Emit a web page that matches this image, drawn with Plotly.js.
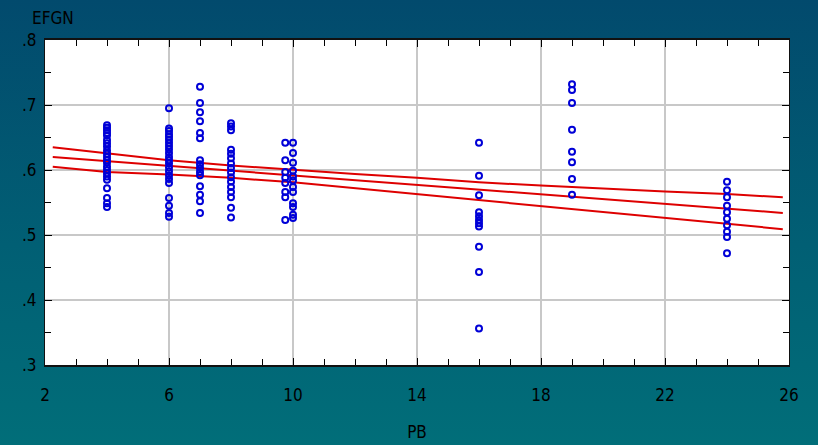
<!DOCTYPE html>
<html>
<head>
<meta charset="utf-8">
<script src="https://cdn.plot.ly/plotly-3.0.1.min.js"></script>
<style>
  html, body { margin: 0; padding: 0; }
  body { width: 818px; height: 445px; background: linear-gradient(to bottom, #024a6d 0%, #015f74 55%, #016e79 100%); }
  #chart { width: 818px; height: 445px; }
</style>
</head>
<body>
<div id="chart"></div>
<script>
const pbGroups = [4, 6, 7, 8, 9.75, 10, 16, 19, 24];
const efgnPb4  = [.669,.665,.661,.657,.653,.646,.641,.636,.630,.625,.620,.615,.611,.605,.600,.595,.590,.585,.572,.557,.549,.543];
const efgnPb6  = [.695,.664,.660,.655,.651,.647,.642,.637,.632,.626,.620,.615,.610,.604,.598,.592,.586,.580,.557,.545,.534,.528];
const efgnPb7  = [.728,.703,.689,.675,.657,.649,.615,.609,.603,.597,.592,.575,.562,.552,.534];
const efgnPb8  = [.672,.667,.661,.631,.625,.618,.610,.603,.596,.589,.582,.574,.566,.558,.542,.527];
const efgnPb975= [.642,.615,.597,.588,.580,.566,.558,.523];
const efgnPb10 = [.642,.626,.611,.599,.590,.584,.574,.566,.549,.543,.531,.526];
const efgnPb16 = [.642,.591,.561,.535,.529,.523,.518,.513,.482,.443,.356];
const efgnPb19 = [.732,.723,.703,.662,.628,.612,.586,.562];
const efgnPb24 = [.582,.569,.558,.545,.535,.525,.515,.505,.497,.472];
const efgnGroups = [efgnPb4, efgnPb6, efgnPb7, efgnPb8, efgnPb975, efgnPb10, efgnPb16, efgnPb19, efgnPb24];

// Regression line and confidence band
const fitX = [2.25, 25.8];
const fitY = [.620, .534];
const bandX = [2.25, 4, 6, 8, 10, 12, 14, 16, 18, 20, 22, 24, 25.8];
const bandUpper = [.635, .626, .615, .607, .600, .594, .588, .581, .576, .571, .567, .563, .558];
const bandLower = [.605, .597, .593, .588, .581, .572, .563, .554, .545, .535, .526, .518, .509];

// Tick labels
const xTickVals = [2, 6, 10, 14, 18, 22, 26];
const xTickText = ['2', '6', '10', '14', '18', '22', '26'];
const yTickVals = [.3, .4, .5, .6, .7, .8];
const yTickText = ['.3', '.4', '.5', '.6', '.7', '.8'];

const ptsX = [], ptsY = [];
pbGroups.forEach((g, i) => {
  efgnGroups[i].forEach(v => { ptsX.push(g); ptsY.push(v); });
});

const red = 'rgb(222,0,0)';
const data = [
  { x: bandX, y: bandUpper, mode: 'lines', line: { color: red, width: 2 }, hoverinfo: 'skip' },
  { x: bandX, y: bandLower, mode: 'lines', line: { color: red, width: 2 }, hoverinfo: 'skip' },
  { x: fitX, y: fitY, mode: 'lines', line: { color: red, width: 2 }, hoverinfo: 'skip' },
  { x: ptsX, y: ptsY, mode: 'markers',
    marker: { symbol: 'circle-open', size: 6, color: 'rgb(0,0,215)', line: { color: 'rgb(0,0,215)', width: 2 } } }
];

const tickFont = { family: '"DejaVu Sans Condensed", "Liberation Sans Narrow", sans-serif', size: 17, color: '#000' };

const layout = {
  width: 818, height: 445,
  margin: { l: 45, r: 29, t: 40, b: 80 },
  paper_bgcolor: 'rgba(0,0,0,0)',
  plot_bgcolor: '#ffffff',
  showlegend: false,
  title: { text: 'EFGN', xref: 'container', yref: 'container', x: 32/818, xanchor: 'left', y: 1 - 18/445, yanchor: 'middle',
           font: { family: '"DejaVu Sans Condensed", sans-serif', size: 17, color: '#000' } },
  xaxis: {
    range: [2, 26], tickvals: xTickVals, ticktext: xTickText,
    ticks: 'inside', ticklen: 7, tickwidth: 1, tickcolor: '#000',
    showgrid: true, gridcolor: '#c8c8c8', gridwidth: 2, zeroline: false,
    showline: true, linecolor: '#111', linewidth: 2, mirror: 'ticks',
    minor: { dtick: 1, ticks: 'inside', ticklen: 6, tickcolor: '#000', showgrid: false },
    tickfont: tickFont, ticklabelstandoff: 14,
    title: { text: 'PB', font: { family: '"DejaVu Sans Condensed", sans-serif', size: 17, color: '#000' }, standoff: 22 }
  },
  yaxis: {
    range: [.3, .8], tickvals: yTickVals, ticktext: yTickText,
    ticks: 'inside', ticklen: 7, tickwidth: 1, tickcolor: '#000',
    showgrid: true, gridcolor: '#c8c8c8', gridwidth: 2, zeroline: false,
    showline: true, linecolor: '#111', linewidth: 1, mirror: 'ticks',
    minor: { dtick: .05, ticks: 'inside', ticklen: 6, tickcolor: '#000', showgrid: false },
    tickfont: tickFont, ticklabelstandoff: 4
  }
};

Plotly.newPlot('chart', data, layout, { displayModeBar: false, staticPlot: true });
</script>
</body>
</html>
